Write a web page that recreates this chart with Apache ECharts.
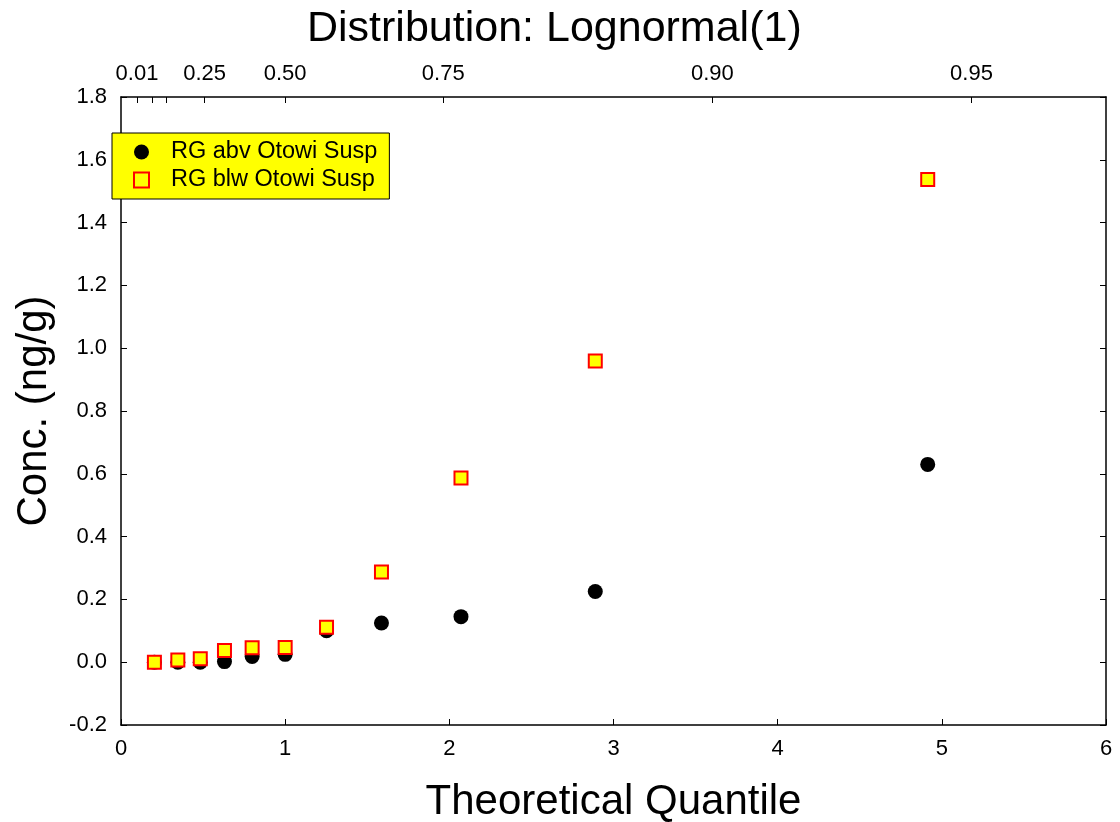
<!DOCTYPE html>
<html>
<head>
<meta charset="utf-8">
<script src="https://cdn.jsdelivr.net/npm/echarts@6/dist/echarts.min.js"></script>
<style>
  html, body { margin: 0; padding: 0; background: #fff; }
  #chart { width: 1120px; height: 822px; }
</style>
</head>
<body>
<div id="chart"></div>
<script>
// Theoretical lognormal quantiles (plotting positions) shared by both stations
const quantiles = [0.2035, 0.3462, 0.4829, 0.6303, 0.7988, 1.0, 1.2519, 1.5866, 2.071, 2.889, 4.914];

// Concentrations (ng/g)
const abvOtowi = [0.0, 0.0, 0.0, 0.002, 0.018, 0.025, 0.100, 0.125, 0.145, 0.225, 0.630];
const blwOtowi = [0.0, 0.007, 0.011, 0.037, 0.046, 0.047, 0.111, 0.287, 0.587, 0.959, 1.537];

const seriesNames = ['RG abv Otowi Susp', 'RG blw Otowi Susp'];

// Top probability axis: standard normal z-scores for each probability
const probLabels = ['0.01', '0.05', '0.10', '0.25', '0.50', '0.75', '0.90', '0.95'];
const probZ = [-2.3263, -1.6449, -1.2816, -0.6745, 0, 0.6745, 1.2816, 1.6449];
const probShown = ['0.01', '0.25', '0.50', '0.75', '0.90', '0.95'];

const probPos = probZ.map(z => Math.exp(z));
const probLabelPos = probShown.map(p => probPos[probLabels.indexOf(p)]);

function probText(v) {
  let best = 0, d = Infinity;
  probPos.forEach((p, i) => { const e = Math.abs(p - v); if (e < d) { d = e; best = i; } });
  return probLabels[best];
}

const FONT = 'Liberation Sans, Arial, sans-serif';
const axisLine = { show: true, onZero: false, lineStyle: { color: '#000', width: 1.5 } };
const tick = { show: true, inside: true, length: 6, lineStyle: { color: '#000', width: 1 } };

const chart = echarts.init(document.getElementById('chart'));
chart.setOption({
  animation: false,
  backgroundColor: '#fff',
  textStyle: { fontFamily: FONT, color: '#000' },
  title: {
    text: 'Distribution: Lognormal(1)',
    left: 302,
    top: 3,
    textStyle: { fontFamily: FONT, fontSize: 43, fontWeight: 'normal', color: '#000' }
  },
  legend: {
    orient: 'vertical',
    left: 112,
    top: 133,
    data: [
      { name: seriesNames[0], icon: 'circle' },
      { name: seriesNames[1], icon: 'rect' }
    ],
    backgroundColor: '#ffff00',
    borderColor: '#000',
    borderWidth: 1,
    borderRadius: 0,
    padding: [7, 12, 7, 21],
    itemGap: 4,
    itemWidth: 15,
    itemHeight: 15,
    textStyle: { fontFamily: FONT, fontSize: 23.5, color: '#000', padding: [0, 0, 0, 17] }
  },
  grid: { left: 121, right: 14, top: 97, bottom: 97, containLabel: false, outerBoundsMode: 'none' },
  xAxis: [
    {
      type: 'value', min: 0, max: 6, interval: 1, position: 'bottom',
      name: 'Theoretical Quantile', nameLocation: 'middle', nameGap: 56,
      nameTextStyle: { fontFamily: FONT, fontSize: 42, color: '#000' },
      axisLine: axisLine,
      axisTick: tick,
      axisLabel: { fontFamily: FONT, fontSize: 22, color: '#000', margin: 13 },
      splitLine: { show: false }
    },
    {
      type: 'value', min: 0, max: 6, position: 'top',
      axisLine: axisLine,
      axisTick: Object.assign({}, tick, { customValues: probPos }),
      axisLabel: { fontFamily: FONT, fontSize: 22, color: '#000', margin: 12, customValues: probLabelPos, formatter: probText },
      splitLine: { show: false }
    }
  ],
  yAxis: [
    {
      type: 'value', min: -0.2, max: 1.8, interval: 0.2, position: 'left',
      name: 'Conc. (ng/g)', nameLocation: 'middle', nameGap: 66,
      nameTextStyle: { fontFamily: FONT, fontSize: 42, color: '#000' },
      axisLine: axisLine,
      axisTick: tick,
      axisLabel: { fontFamily: FONT, fontSize: 22, color: '#000', margin: 14, formatter: v => v.toFixed(1) },
      splitLine: { show: false }
    },
    {
      type: 'value', min: -0.2, max: 1.8, interval: 0.2, position: 'right',
      axisLine: axisLine,
      axisTick: tick,
      axisLabel: { show: false },
      splitLine: { show: false }
    }
  ],
  series: [
    {
      name: seriesNames[0], type: 'scatter', xAxisIndex: 0, yAxisIndex: 0,
      symbol: 'circle', symbolSize: 15,
      itemStyle: { color: '#000', opacity: 1 },
      data: quantiles.map((q, i) => [q, abvOtowi[i]])
    },
    {
      name: seriesNames[1], type: 'scatter', xAxisIndex: 0, yAxisIndex: 0,
      symbol: 'rect', symbolSize: 13,
      itemStyle: { color: '#ffff00', borderColor: '#ff0000', borderWidth: 2, opacity: 1 },
      data: quantiles.map((q, i) => [q, blwOtowi[i]])
    }
  ]
});
</script>
</body>
</html>
